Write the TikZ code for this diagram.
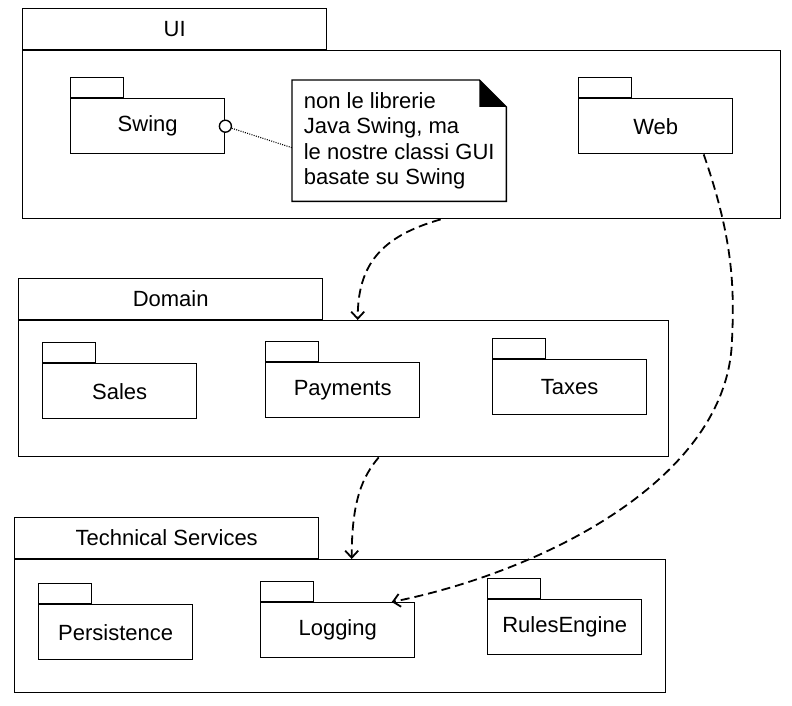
\documentclass[tikz,border=0pt]{standalone}
\usepackage{fontspec}
\setmainfont{Liberation Sans}
\usetikzlibrary{arrows.meta}

\begin{document}
\begin{tikzpicture}[x=1pt,y=-1pt,line width=1.4pt,
  every node/.style={inner sep=0pt,font=\fontsize{22}{25.5}\selectfont},
  bigbody/.style={draw,anchor=north west},
  bigtab/.style={draw,anchor=south west,minimum width=304pt,minimum height=41pt},
  pkg/.style={draw,anchor=north west,minimum width=154pt,minimum height=55pt},
  pkgtab/.style={draw,anchor=south west,minimum width=53pt,minimum height=20pt},
  dep/.style={line width=1.8pt,dash pattern=on 9pt off 5pt,-{Straight Barb[length=7pt,width=13pt]}}]
\useasboundingbox (0,0) rectangle (792,706);
\node[bigbody,minimum width=758pt,minimum height=168pt] (uibody) at (22,50) {};
\node[bigtab] (uitab) at (uibody.north west) {UI};
\node[pkg] (swing) at (70,98) {Swing};
\node[pkg] (web) at (578,98) {Web};
\node[minimum width=213pt,minimum height=120pt,anchor=north west,align=left] (note) at (292,80) {non le librerie\\Java Swing, ma\\le nostre classi GUI\\basate su Swing};
\draw (note.north west) -- ([xshift=-27pt]note.north east) -- ([yshift=-27pt]note.north east) -- (note.south east) -- (note.south west) -- cycle;
\fill ([xshift=-27pt]note.north east) -- ([xshift=-27pt,yshift=-27pt]note.north east) -- ([yshift=-27pt]note.north east) -- cycle;
\node[draw,circle,fill=white,minimum size=12pt] (swingport) at (swing.east) {};
\draw[line width=1.1pt,dash pattern=on 1pt off 1.3pt] (swingport) -- ([yshift=-7pt]note.west);
\node[bigbody,minimum width=650pt,minimum height=136pt] (dombody) at (18,320) {};
\node[bigtab] (domtab) at (dombody.north west) {Domain};
\node[pkg] (sales) at (42,363) {Sales};
\node[pkg] (payments) at (265,362) {Payments};
\node[pkg] (taxes) at (492,359) {Taxes};
\node[bigbody,minimum width=651pt,minimum height=133pt] (tsbody) at (14,559) {};
\node[bigtab] (tstab) at (tsbody.north west) {Technical Services};
\node[pkg] (persistence) at (38,604) {Persistence};
\node[pkg] (logging) at (260,602) {Logging};
\node[pkg] (rules) at (487,599) {RulesEngine};
\foreach \p in {swing,web,sales,payments,taxes,persistence,logging,rules}
  \node[pkgtab] (\p tab) at (\p.north west) {};
\coordinate (webbend) at (732,340);
\draw[dep] ([xshift=39pt]uibody.south) .. controls +(-60,17) and +(0,-55) .. ([xshift=14pt]dombody.north);
\draw[dep] ([xshift=35pt]dombody.south) .. controls +(-16,19) and +(0,-59) .. ([xshift=11.5pt]tsbody.north);
\draw[dep] ([xshift=48pt]web.south) .. controls +(27,78) and +(3,-60) .. (webbend) .. controls +(-4,140) and +(149,-30) .. ([xshift=54pt]logging.north);
\end{tikzpicture}
\end{document}
